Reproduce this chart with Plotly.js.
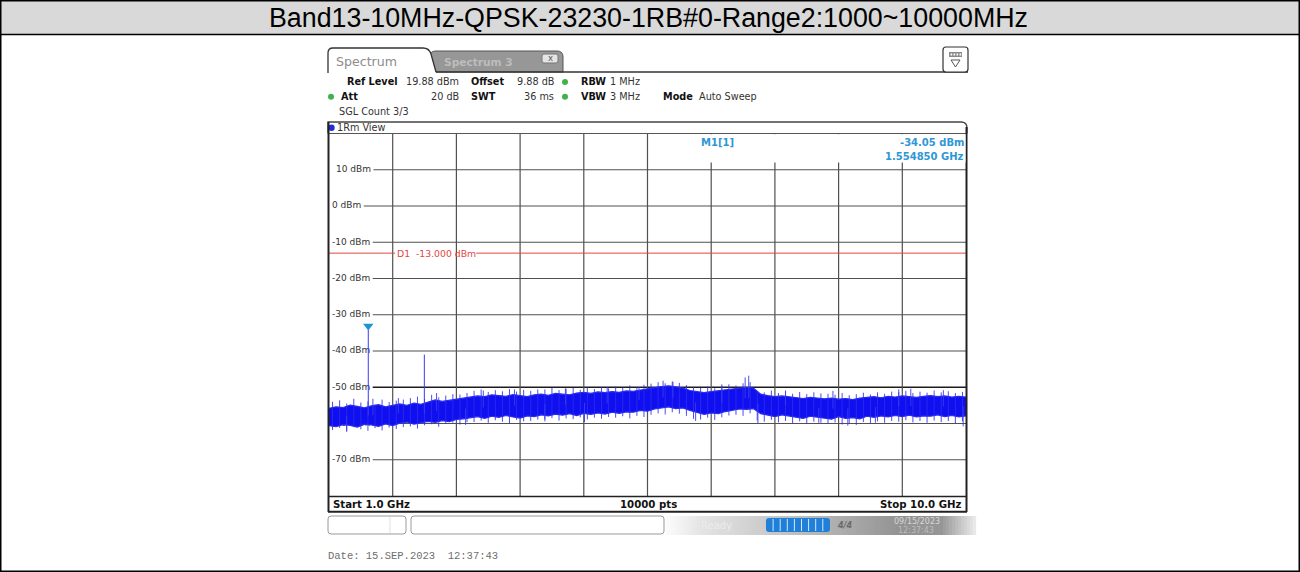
<!DOCTYPE html>
<html><head><meta charset="utf-8">
<script src="https://cdn.plot.ly/plotly-3.0.1.min.js"></script>
<style>html,body{margin:0;padding:0;background:#fff;}#chart{width:1300px;height:572px;}</style>
</head><body><div id="chart"></div>
<script>
// ---------------- DATA ----------------
const chartTitle = "Band13-10MHz-QPSK-23230-1RB#0-Range2:1000~10000MHz";
const freqGHz = [1.0,1.1,1.2,1.3,1.4,1.5,1.6,1.7,1.8,1.9,2.0,2.1,2.2,2.3,2.4,2.5,2.6,2.7,2.8,2.9,
 3.0,3.1,3.2,3.3,3.4,3.5,3.6,3.7,3.8,3.9,4.0,4.1,4.2,4.3,4.4,4.5,4.6,4.7,4.8,4.9,
 5.0,5.1,5.2,5.3,5.4,5.5,5.6,5.7,5.8,5.9,6.0,6.1,6.2,6.3,6.4,6.5,6.6,6.7,6.8,6.9,
 7.0,7.1,7.2,7.3,7.4,7.5,7.6,7.7,7.8,7.9,8.0,8.1,8.2,8.3,8.4,8.5,8.6,8.7,8.8,8.9,
 9.0,9.1,9.2,9.3,9.4,9.5,9.6,9.7,9.8,9.9,10.0];
const upperDbm = [-55.8,-55.4,-55.6,-54.9,-55.3,-55.7,-55.1,-54.8,-55.4,-55.0,
 -54.6,-55.0,-54.4,-54.7,-54.0,-53.5,-53.9,-53.6,-53.2,-53.0,
 -52.7,-52.4,-52.6,-52.1,-52.3,-52.5,-52.0,-52.2,-52.6,-52.1,
 -51.9,-52.2,-51.7,-51.9,-52.1,-51.6,-51.4,-51.7,-51.3,-51.5,
 -51.2,-51.4,-51.0,-51.1,-50.7,-50.5,-50.1,-49.8,-49.6,-49.9,
 -50.2,-50.9,-51.3,-51.5,-51.2,-51.0,-50.8,-50.5,-50.2,-50.0,
 -50.3,-51.9,-52.3,-52.6,-52.4,-52.7,-52.9,-53.1,-52.8,-53.0,
 -53.2,-53.0,-53.3,-53.1,-53.4,-53.0,-52.8,-52.6,-52.9,-52.5,
 -52.7,-52.4,-52.6,-52.8,-52.5,-52.3,-52.6,-52.4,-52.7,-52.5,-52.7];
const lowerDbm = [-60.6,-60.9,-60.3,-60.5,-61.0,-60.2,-60.4,-60.8,-60.1,-60.6,
 -59.9,-59.6,-60.2,-59.8,-59.4,-59.7,-59.2,-59.5,-58.9,-58.7,
 -58.4,-58.1,-58.6,-58.0,-58.3,-57.8,-58.2,-58.5,-57.9,-58.1,
 -57.6,-57.9,-57.4,-57.7,-57.3,-57.8,-57.2,-57.5,-57.1,-57.4,
 -56.9,-57.2,-56.8,-56.9,-56.4,-56.6,-56.0,-55.8,-55.4,-55.9,
 -55.7,-56.4,-57.0,-57.5,-57.1,-57.3,-56.7,-56.4,-56.0,-56.1,
 -55.9,-57.3,-57.8,-58.1,-57.6,-58.0,-58.2,-58.6,-58.0,-58.3,
 -58.5,-58.8,-58.1,-58.6,-58.4,-58.7,-58.0,-58.3,-57.9,-58.2,
 -57.8,-58.1,-57.7,-58.2,-57.9,-58.0,-57.6,-58.1,-57.8,-58.2,-57.9];
// fine noise texture: vertical excursions read between envelope points
const fuzzFreq = [1.05,1.15,1.25,1.35,1.45,1.55,1.65,1.75,1.85,1.95,
 2.05,2.15,2.25,2.35,2.45,2.55,2.65,2.75,2.85,2.95,
 3.05,3.15,3.25,3.35,3.45,3.55,3.65,3.75,3.85,3.95,
 4.05,4.15,4.25,4.35,4.45,4.55,4.65,4.75,4.85,4.95,
 5.05,5.15,5.25,5.35,5.45,5.55,5.65,5.75,5.85,5.95,
 6.05,6.15,6.25,6.35,6.45,6.55,6.65,6.75,6.85,6.95,
 7.05,7.15,7.25,7.35,7.45,7.55,7.65,7.75,7.85,7.95,
 8.05,8.15,8.25,8.35,8.45,8.55,8.65,8.75,8.85,8.95,
 9.05,9.15,9.25,9.35,9.45,9.55,9.65,9.75,9.85,9.95];
const fuzzUpDbm = [-54.0,-53.6,-54.5,-53.2,-54.2,-53.9,-54.8,-53.4,-54.1,-53.7,
 -53.4,-53.0,-52.6,-53.2,-52.1,-52.8,-52.3,-51.9,-52.0,-51.6,
 -51.0,-50.6,-51.3,-50.8,-51.1,-50.5,-51.2,-50.7,-51.0,-50.6,
 -50.6,-50.2,-50.8,-50.4,-50.1,-50.7,-50.0,-50.5,-49.9,-50.3,
 -49.8,-50.1,-49.5,-49.9,-49.3,-49.0,-48.6,-48.9,-48.4,-48.8,
 -49.4,-49.9,-50.2,-49.8,-50.3,-49.6,-49.2,-49.5,-48.9,-48.6,
 -51.2,-51.4,-50.9,-51.6,-51.1,-51.8,-51.3,-51.9,-51.4,-51.7,
 -51.8,-52.1,-51.6,-52.2,-51.9,-51.5,-52.0,-51.4,-51.8,-51.2,
 -51.3,-51.0,-51.6,-51.2,-51.5,-50.9,-51.4,-51.1,-51.6,-51.3];
const fuzzDownDbm = [-61.8,-61.2,-62.3,-61.0,-61.6,-62.0,-61.3,-61.9,-61.1,-61.5,
 -61.0,-60.8,-61.4,-60.5,-60.2,-60.9,-60.1,-59.8,-60.3,-59.6,
 -59.6,-59.2,-59.8,-59.1,-59.5,-59.9,-59.0,-59.4,-59.3,-58.9,
 -58.9,-58.5,-59.2,-58.6,-58.8,-58.3,-58.9,-58.4,-58.7,-58.2,
 -58.4,-58.0,-58.6,-57.9,-58.2,-57.6,-57.2,-57.5,-56.9,-57.3,
 -57.9,-58.7,-58.9,-58.4,-59.0,-58.3,-57.8,-57.6,-57.9,-57.2,
 -59.2,-59.5,-59.0,-59.7,-59.3,-59.9,-59.4,-60.0,-59.5,-59.8,
 -60.1,-59.7,-60.3,-59.9,-60.4,-59.6,-60.0,-59.4,-59.8,-59.3,
 -59.5,-59.1,-59.7,-59.3,-59.8,-59.2,-59.6,-59.3,-59.9,-59.4];
// isolated noise spikes
const noiseSpikeFreq = [1.25,1.62,1.98,2.52,2.93,3.18,3.62,4.05,4.34,4.61,4.93,5.38,5.72,5.86,6.18,6.55,6.88,6.93,7.06,7.45,7.92,8.12,8.33,8.72,9.05,9.22,9.68,9.96];
const noiseSpikeDbm  = [-62.0,-53.2,-53.0,-51.6,-60.4,-50.9,-50.6,-59.4,-50.3,-59.6,-49.9,-50.0,-48.2,-48.5,-59.3,-49.2,-47.3,-46.8,-60.0,-50.9,-59.8,-51.0,-60.6,-59.8,-50.6,-50.4,-50.8,-60.8];
// carriers / harmonics
const carrierFreq = [1.55485, 2.347];
const carrierDbm  = [-34.05, -41.0];
const markerFreq = 1.55485;
const markerDbm = -34.05;
const limitDbm = -13;
const yTickVals = [10, 0, -10, -20, -30, -40, -50, -60, -70];
const yTickText = ["10 dBm","0 dBm","-10 dBm","-20 dBm","-30 dBm","-40 dBm","-50 dBm","-60 dBm","-70 dBm"];
const xStart = 1.0, xStop = 10.0, yTop = 20, yBottom = -80;

// ---------------- LAYOUT HELPERS ----------------
const W = 1300, H = 572;
const GX0 = 329, GX1 = 966, GY0 = 133.5, GY1 = 496;
const px = x => x / W;
const py = y => 1 - y / H;
const xAt = p => xStart + (p - GX0) / (GX1 - GX0) * (xStop - xStart);
const pxPerDb = (GY1 - GY0) / (yTop - yBottom);
const ctx = document.createElement('canvas').getContext('2d');
function tw(text, font){ ctx.font = font; return ctx.measureText(text).width; }

const F = 'DejaVu Sans';
const annotations = [];
const shapes = [];
function ann(text, x, y, o = {}) {
  annotations.push(Object.assign({
    xref:'paper', yref:'paper', x:px(x), y:py(y), text, showarrow:false,
    xanchor:'left', yanchor:'middle', borderpad:0,
    font:{family:F, size:9.7, color:'#222'}
  }, o));
}
function rect(x0,y0,x1,y1,fill,line,lw,layer){
  shapes.push({type:'rect', xref:'paper', yref:'paper', x0:px(x0), x1:px(x1), y0:py(y1), y1:py(y0),
    fillcolor:fill, line:{color:line||'rgba(0,0,0,0)', width:lw||0}, layer:layer||'above'});
}
function line(x0,y0,x1,y1,color,lw,layer){
  shapes.push({type:'line', xref:'paper', yref:'paper', x0:px(x0), x1:px(x1), y0:py(y0), y1:py(y1),
    line:{color, width:lw}, layer:layer||'above'});
}
function path(pts, fill, color, lw){
  const d = pts.replace(/(-?\d+\.?\d*),(-?\d+\.?\d*)/g, (m,a,b)=> px(+a).toFixed(6)+','+py(+b).toFixed(6));
  shapes.push({type:'path', xref:'paper', yref:'paper', path:d, fillcolor:fill||'rgba(0,0,0,0)',
    line:{color:color||'rgba(0,0,0,0)', width:lw||0}, layer:'above'});
}
function dot(cx, cy, r, color){
  shapes.push({type:'circle', xref:'paper', yref:'paper', x0:px(cx-r), x1:px(cx+r), y0:py(cy+r), y1:py(cy-r),
    fillcolor:color, line:{width:0}, layer:'above'});
}

// ---- page frame & title bar
rect(1,1,1299,34.5,'#d9d9d9','#000',0);
line(0,34.5,1300,34.5,'#000',1.5);
rect(0.75,0.75,1299.25,571.25,'rgba(0,0,0,0)','#000',1.5);
ann(chartTitle, 648, 18, {xanchor:'center', font:{family:'Liberation Sans', size:26.8, color:'#000'}});

// ---- tabs
path('M 430,72 L 430,56 Q 430,51 436,51 L 557,51 Q 563,51 563,57 L 563,72 Z', '#979797', '#555', 1);
path('M 328,73 L 328,53 Q 328,48 333,48 L 423,48 Q 429,48 431,54 L 436,73 Z', '#ffffff', null, 0);
path('M 328,73 L 328,53 Q 328,48 333,48 L 423,48 Q 429,48 431,54 L 436,72', null, '#333', 1.3);
line(436,72,968,72,'#333',1.5);
ann('Spectrum', 335, 61, {font:{family:F, size:12.6, color:'#8c8c8c'}});
ann('<b>Spectrum 3</b>', 443, 62, {font:{family:F, size:10.6, color:'#bdbdbd'}});
path('M 542,56 Q 542,54 544,54 L 556,54 Q 558,54 558,56 L 558,61 Q 558,63 556,63 L 544,63 Q 542,63 542,61 Z', '#e4e4e4', '#777', 1);
ann('x', 550, 58.3, {xanchor:'center', font:{family:F, size:8.5, color:'#555'}});
path('M 943,50 Q 943,47 946,47 L 965,47 Q 968,47 968,50 L 968,69 Q 968,72 965,72 L 946,72 Q 943,72 943,69 Z', '#ffffff', '#333', 1.2);
rect(949,52,962,57,'#8a8a8a',null,0);
for (let i=0;i<4;i++) rect(950.5+i*3,53.5,952.2+i*3,55.5,'#ffffff',null,0);
path('M 951,60 L 960,60 L 955.5,67 Z', '#ffffff', '#555', 1);

// ---- header info rows
const r1 = 82, r2 = 96.8, r3 = 111.2;
const lab = (t,x,y)=>ann('<b>'+t+'</b>', x, y, {font:{family:F, size:9.7, color:'#111'}});
const val = (t,x,y,o={})=>ann(t, x, y, Object.assign({font:{family:F, size:9.7, color:'#333'}}, o));
lab('Ref Level',346,r1); val('19.88 dBm',460,r1,{xanchor:'right'});
lab('Offset',470,r1); val('9.88 dB',555,r1,{xanchor:'right'});
dot(565,r1,3,'#3fb24c'); lab('RBW',580,r1); val('1 MHz',609,r1);
dot(331,r2,3,'#3fb24c'); lab('Att',340,r2); val('20 dB',460,r2,{xanchor:'right'});
lab('SWT',470,r2); val('36 ms',555,r2,{xanchor:'right'});
dot(565,r2,3,'#3fb24c'); lab('VBW',580,r2); val('3 MHz',609,r2);
lab('Mode',662,r2); val('Auto Sweep',698,r2);
val('SGL Count 3/3',338,r3);

// ---- 1Rm View box and diagram frame
path('M 328,133.5 L 328,122 L 961,122 Q 967,122 967,128 L 967,133.5', null, '#444', 1.3);
line(328,133.5,967,133.5,'#555',1.2);
dot(331.5,127.8,3.2,'#1f2fd8');
ann('1Rm View', 335.5, 127.8, {font:{family:F, size:9.7, color:'#333'}});
line(328.5,122,328.5,512,'#222',2);
line(966.5,127,966.5,512,'#222',2);
line(328,496.5,967,496.5,'#222',1.6);
line(328,511.8,967,511.8,'#222',2);
ann('<b>Start 1.0 GHz</b>', 332, 504, {font:{family:F, size:10.2, color:'#111'}});
ann('<b>10000 pts</b>', 648, 504, {xanchor:'center', font:{family:F, size:10.2, color:'#111'}});
ann('<b>Stop 10.0 GHz</b>', 963, 504, {xanchor:'right', font:{family:F, size:10.2, color:'#111'}});

// ---- horizontal grid lines (start after the in-plot labels)
const labX = 332, labFont = '9px "DejaVu Sans"';
const labStart = v => v > 0 ? labX + 4 : labX;
for (let v = yBottom + 10; v < yTop; v += 10) {
  const k = yTickVals.indexOf(v);
  const xs = k >= 0 ? labStart(v) + tw(yTickText[k], labFont) + 2.5 : GX0;
  shapes.push({type:'line', xref:'paper', yref:'y', x0:px(xs), x1:px(GX1), y0:v, y1:v,
    line:{color: v === -50 ? '#1c1c1c' : '#505050', width: v === -50 ? 1.4 : 1.2}, layer:'below'});
}
// vertical grid lines (antialiased, uniform)
for (let k = 1; k < 10; k++) {
  const f = xStart + k * (xStop - xStart) / 10;
  shapes.push({type:'line', xref:'x', yref:'paper', x0:f, x1:f, y0:1-GY1/H, y1:1-GY0/H,
    line:{color:'#505050', width:1.2}, layer:'below'});
}

// ---- marker info box (covers top of grid at right)
rect(650,134.3,965.5,162.5,'#ffffff',null,0);
const mFont = {family:F, size:10, color:'#2f97d4'};
ann('<b>M1[1]</b>', 700, 142.5, {font:mFont});
ann('<b>'+markerDbm.toFixed(2)+' dBm</b>', 965, 142.5, {xanchor:'right', font:mFont});
ann('<b>'+markerFreq.toFixed(6)+' GHz</b>', 965, 156, {xanchor:'right', font:mFont});

// ---- limit line D1
const dText = 'D1\u00a0\u00a0-13.000 dBm';
const dFont = 9.3;
const dW = tw(dText, dFont+'px "DejaVu Sans"');
const dX = 395.5;
shapes.push({type:'line', xref:'paper', yref:'y', x0:px(GX0), x1:px(dX-0.5), y0:limitDbm, y1:limitDbm, line:{color:'#e2473f', width:1}, layer:'between'});
shapes.push({type:'line', xref:'paper', yref:'y', x0:px(dX+dW+1.5), x1:px(GX1), y0:limitDbm, y1:limitDbm, line:{color:'#e2473f', width:1}, layer:'between'});
annotations.push({xref:'paper', yref:'y', x:px(dX), y:limitDbm, text:dText, showarrow:false, xanchor:'left', yanchor:'middle', borderpad:0,
  font:{family:F, size:dFont, color:'#e2473f'}});

// ---- status bar
path('M 328,519 Q 328,516 331,516 L 403,516 Q 406,516 406,519 L 406,531 Q 406,534 403,534 L 331,534 Q 328,534 328,531 Z', '#ffffff', '#9a9a9a', 1);
line(390,517,390,533,'#e0e0e0',1);
const grayAt = x => {
  const pts = [[664,252],[700,228],[760,205],[850,168],[900,146],[940,150],[975,238]];
  for (let i=0;i<pts.length-1;i++){ if (x<=pts[i+1][0]) { const t=(x-pts[i][0])/(pts[i+1][0]-pts[i][0]); return Math.round(pts[i][1]+t*(pts[i+1][1]-pts[i][1])); } }
  return 238;
};
for (let x=664; x<975; x+=3){ const g=grayAt(x); rect(x,516,x+3.2,535,`rgb(${g},${g},${g})`,null,0); }
path('M 411,519 Q 411,516 414,516 L 661,516 Q 664,516 664,519 L 664,531 Q 664,534 661,534 L 414,534 Q 411,534 411,531 Z', '#ffffff', '#9a9a9a', 1);
ann('Ready', 700, 525, {font:{family:F, size:10, color:'#ececec'}});
path('M 766,521 Q 766,518 769,518 L 827,518 Q 830,518 830,521 L 830,529 Q 830,532 827,532 L 769,532 Q 766,532 766,529 Z', '#1f7fd9', null, 0);
for (let i=1;i<9;i++) line(766+i*7.1,519,766+i*7.1,531,'#d8e8f8',1);
ann('<b><i>4/4</i></b>', 836, 525, {font:{family:F, size:8, color:'#6a6a6a'}});
ann('09/15/2023', 893, 521, {font:{family:F, size:8, color:'#d8d8d8'}});
ann('12:37:43', 897, 530, {font:{family:F, size:8, color:'#bcbcbc'}});

// ---- date line
ann('Date: 15.SEP.2023\u00a0\u00a012:37:43', 327, 555.5, {font:{family:'Liberation Mono', size:10.5, color:'#6e6e6e'}});

// ---------------- TRACES ----------------
function nearestIdx(f){ let b=0; for(let i=0;i<freqGHz.length;i++) if (Math.abs(freqGHz[i]-f)<Math.abs(freqGHz[b]-f)) b=i; return b; }
const spX=[], spY=[];
noiseSpikeFreq.forEach((f,i)=>{ const k=nearestIdx(f); spX.push(f,f,null); spY.push((upperDbm[k]+lowerDbm[k])/2, noiseSpikeDbm[i], null); });
const fzX=[], fzY=[];
fuzzFreq.forEach((f,i)=>{ fzX.push(f,f,null); fzY.push(fuzzDownDbm[i], fuzzUpDbm[i], null); });
const cX=[], cY=[];
carrierFreq.forEach((f,i)=>{ const k=nearestIdx(f); cX.push(f,f,null); cY.push((upperDbm[k]+lowerDbm[k])/2, carrierDbm[i], null); });

const traces = [
  {type:'scatter', mode:'text', x:yTickVals.map(v=>xAt(labStart(v))), y:yTickVals, text:yTickText,
   textposition:'middle right', textfont:{family:F, size:9, color:'#333'}, hoverinfo:'skip', cliponaxis:false},
  {type:'scatter', mode:'lines', x:freqGHz, y:lowerDbm, line:{color:'#2a2af2', width:1.2}, hoverinfo:'skip'},
  {type:'scatter', mode:'lines', x:freqGHz, y:upperDbm, fill:'tonexty', fillcolor:'#0f0ff0', line:{color:'#2a2af2', width:1.2}, hoverinfo:'skip'},
  {type:'scatter', mode:'lines', x:fzX, y:fzY, line:{color:'rgba(45,45,240,0.85)', width:1}, hoverinfo:'skip'},
  {type:'scatter', mode:'lines', x:spX, y:spY, line:{color:'rgba(60,60,240,0.9)', width:1}, hoverinfo:'skip'},
  {type:'scatter', mode:'lines', x:cX, y:cY, line:{color:'#3a3af0', width:1}, hoverinfo:'skip'},
  {type:'scatter', mode:'markers', x:[markerFreq], y:[markerDbm + 3.5/pxPerDb],
   marker:{symbol:'triangle-down', size:9, color:'#1e94d6', line:{width:0}}, hoverinfo:'skip'}
];

const layout = {
  width:W, height:H, margin:{l:0,r:0,t:0,b:0}, showlegend:false,
  paper_bgcolor:'#ffffff', plot_bgcolor:'#ffffff',
  xaxis:{domain:[px(GX0), px(GX1)], range:[xStart, xStop],
    showgrid:false, showticklabels:false, ticks:'', zeroline:false, showline:false, fixedrange:true},
  yaxis:{domain:[1-GY1/H, 1-GY0/H], range:[yBottom, yTop],
    showgrid:false, showticklabels:false, ticks:'', zeroline:false, showline:false, fixedrange:true},
  shapes, annotations
};
Plotly.newPlot('chart', traces, layout, {staticPlot:true, displayModeBar:false});
</script></body></html>
